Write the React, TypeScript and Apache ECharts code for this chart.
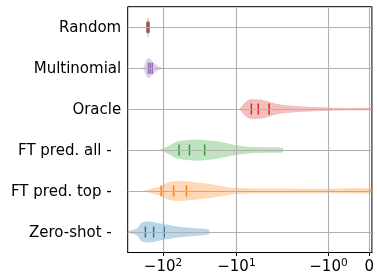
import React, { useEffect, useRef } from "react";
import * as echarts from "echarts";

// Categories, top to bottom
const CATEGORIES = ["Random", "Multinomial", "Oracle", "FT pred. all -", "FT pred. top -", "Zero-shot -"];
const COLORS = ["#8c564b", "#9467bd", "#d62728", "#2ca02c", "#ff7f0e", "#1f77b4"];

// Violin profiles: data values along the x-axis and relative half-widths (fraction of category spacing)
const RANDOM_X = [-169, -167, -163, -160, -157, -153.5, -150.5, -148.5];
const RANDOM_W = [0, 0.12, 0.22, 0.245, 0.22, 0.15, 0.07, 0];
const MULTINOMIAL_X = [-187, -180, -172, -164, -157, -147.5, -138.6, -128.3, -118.6, -108.2, -97.6];
const MULTINOMIAL_W = [0, 0.07, 0.17, 0.23, 0.245, 0.21, 0.16, 0.11, 0.06, 0.025, 0];
const ORACLE_X = [-9.06, -8.26, -7.3, -6.44, -5.51, -4.09, -3.0, -2.09, -1.59, -1.02, -0.49, 0.07];
const ORACLE_W = [0, 0.097, 0.195, 0.238, 0.243, 0.219, 0.139, 0.097, 0.066, 0.041, 0.029, 0.024];
const FT_ALL_X = [-118.6, -100.7, -81.9, -70.1, -60.4, -44.3, -32.3, -19.2, -12.75, -9.35, -6.85, -4.09, -2.35, -2.28];
const FT_ALL_W = [0, 0.036, 0.11, 0.18, 0.219, 0.248, 0.26, 0.219, 0.156, 0.107, 0.083, 0.068, 0.058, 0];
const FT_TOP_X = [-188.8, -152, -107.2, -87.1, -63.8, -42.3, -23.0, -15.0, -9.94, -4.88, -1.0, 0.07];
const FT_TOP_W = [0, 0.049, 0.117, 0.209, 0.243, 0.226, 0.17, 0.112, 0.073, 0.061, 0.056, 0.054];
const ZERO_SHOT_X = [-330, -300.6, -257.6, -220.6, -199, -161.8, -108.2, -63.8, -38.1, -23.9, -23.3];
const ZERO_SHOT_W = [0, 0.02, 0.049, 0.097, 0.219, 0.255, 0.207, 0.136, 0.097, 0.061, 0];

// Quartiles (25%, 50%, 75%)
const RANDOM_Q = [-165, -160, -156];
const MULTINOMIAL_Q = [-158, -149, -140];
const ORACLE_Q = [-6.25, -5.03, -3.58];
const FT_ALL_Q = [-60.5, -43.6, -27.1];
const FT_TOP_Q = [-105.8, -71.6, -47.9];
const ZERO_SHOT_Q = [-173.8, -134.3, -96.4];

// Axis
const X_MIN = -303;
const X_MAX = 0.066;
const TICK_VALUES = [-100, -10, -1, 0];
const TICK_BASES = ["−10", "−10", "−10", "0"];
const TICK_EXPONENTS = ["2", "1", "0", ""];

const PROFILES_X = [RANDOM_X, MULTINOMIAL_X, ORACLE_X, FT_ALL_X, FT_TOP_X, ZERO_SHOT_X];
const PROFILES_W = [RANDOM_W, MULTINOMIAL_W, ORACLE_W, FT_ALL_W, FT_TOP_W, ZERO_SHOT_W];
const QUARTILES = [RANDOM_Q, MULTINOMIAL_Q, ORACLE_Q, FT_ALL_Q, FT_TOP_Q, ZERO_SHOT_Q];

// symmetric log scale (linthresh 2, linscale 1, base 10)
const LINTHRESH = 2;
const LINSCALE_ADJ = 1 / (1 - 1 / 10);
function symlog(v: number): number {
  const a = Math.abs(v);
  if (a <= LINTHRESH) return v * LINSCALE_ADJ;
  return Math.sign(v) * LINTHRESH * (LINSCALE_ADJ + Math.log10(a / LINTHRESH));
}

function rgba(hex: string, a: number): string {
  const r = parseInt(hex.slice(1, 3), 16);
  const g = parseInt(hex.slice(3, 5), 16);
  const b = parseInt(hex.slice(5, 7), 16);
  return `rgba(${r},${g},${b},${a})`;
}

const FONT = "DejaVu Sans";

export default function App() {
  const ref = useRef<HTMLDivElement>(null);
  useEffect(() => {
    if (!ref.current) return;
    const chart = echarts.init(ref.current, null, { renderer: "svg" });
    const tickT = TICK_VALUES.map(symlog);
    const option: any = {
      animation: false,
      grid: {
        left: 127.7,
        right: 1.7,
        top: 6.7,
        bottom: 19.7,
        show: true,
        borderColor: "#000",
        borderWidth: 1,
      },
      xAxis: {
        type: "value",
        min: symlog(X_MIN),
        max: symlog(X_MAX),
        axisLine: { show: true, lineStyle: { color: "#000", width: 1 } },
        axisTick: { show: true, length: 3.5, customValues: tickT, lineStyle: { color: "#000", width: 1 } },
        splitLine: { show: false },
        axisLabel: {
          customValues: tickT,
          margin: 4,
          formatter: (v: number) => {
            let idx = 0;
            let best = Infinity;
            tickT.forEach((t, k) => {
              if (Math.abs(t - v) < best) { best = Math.abs(t - v); idx = k; }
            });
            const e = TICK_EXPONENTS[idx];
            return e ? `{m|${TICK_BASES[idx]}}{e|${e}}` : `{m|${TICK_BASES[idx]}}`;
          },
          rich: {
            m: { fontSize: 15, fontFamily: FONT, color: "#000", lineHeight: 18 },
            e: { fontSize: 10.5, fontFamily: FONT, color: "#000", verticalAlign: "top", lineHeight: 18, padding: [0, 0, 0, 0] },
          },
        },
      },
      yAxis: {
        type: "category",
        data: CATEGORIES,
        inverse: true,
        axisLine: { show: true, lineStyle: { color: "#000", width: 1 } },
        axisTick: { show: true, alignWithLabel: true, length: 3.5, lineStyle: { color: "#000", width: 1 } },
        splitLine: { show: false },
        axisLabel: {
          margin: 6.5,
          fontSize: 15,
          fontFamily: FONT,
          color: "#000",
          formatter: (v: string) => (v.endsWith("-") ? `{p|${v}}` : `{n|${v}}`),
          rich: {
            n: { fontSize: 15, fontFamily: FONT, color: "#000" },
            p: { fontSize: 15, fontFamily: FONT, color: "#000", padding: [0, 9.5, 0, 0] },
          },
        },
      },
      series: [
        {
          type: "custom",
          name: "violins",
          coordinateSystem: "cartesian2d",
          clip: true,
          z: 1,
          data: CATEGORIES.map((_, i) => [symlog(QUARTILES[i][1]), i]),
          encode: { x: 0, y: 1 },
          renderItem: (params: any, api: any) => {
            const i = params.dataIndex;
            const band = Math.abs(api.coord([0, 1])[1] - api.coord([0, 0])[1]);
            const xs = PROFILES_X[i];
            const ws = PROFILES_W[i];
            const top: number[][] = [];
            const bot: number[][] = [];
            xs.forEach((v, k) => {
              const p = api.coord([symlog(v), i]);
              top.push([p[0], p[1] - ws[k] * band]);
              bot.push([p[0], p[1] + ws[k] * band]);
            });
            return {
              type: "polygon",
              shape: { points: top.concat(bot.reverse()), smooth: 0.25 },
              style: { fill: rgba(COLORS[i], 0.3), stroke: "none" },
            };
          },
        },
        {
          type: "line",
          name: "grid",
          data: [],
          z: 2,
          markLine: {
            silent: true,
            symbol: ["none", "none"],
            label: { show: false },
            lineStyle: { color: "#b0b0b0", width: 1.1, type: "solid" },
            data: [
              ...tickT.map((t) => ({ xAxis: t })),
              ...CATEGORIES.map((c) => ({ yAxis: c })),
            ],
          },
        },
        {
          type: "custom",
          name: "quartiles",
          coordinateSystem: "cartesian2d",
          clip: true,
          z: 3,
          data: CATEGORIES.map((_, i) => [symlog(QUARTILES[i][1]), i]),
          encode: { x: 0, y: 1 },
          renderItem: (params: any, api: any) => {
            const i = params.dataIndex;
            return {
              type: "group",
              children: QUARTILES[i].map((q) => {
                const p = api.coord([symlog(q), i]);
                return {
                  type: "line",
                  shape: { x1: p[0], y1: p[1] - 5.5, x2: p[0], y2: p[1] + 5.5 },
                  style: { stroke: COLORS[i], lineWidth: 1.5 },
                };
              }),
            };
          },
        },
      ],
    };
    chart.setOption(option);
    return () => chart.dispose();
  }, []);
  return <div ref={ref} style={{ position: "fixed", left: 0, top: 0, width: 377, height: 273 }} />;
}
